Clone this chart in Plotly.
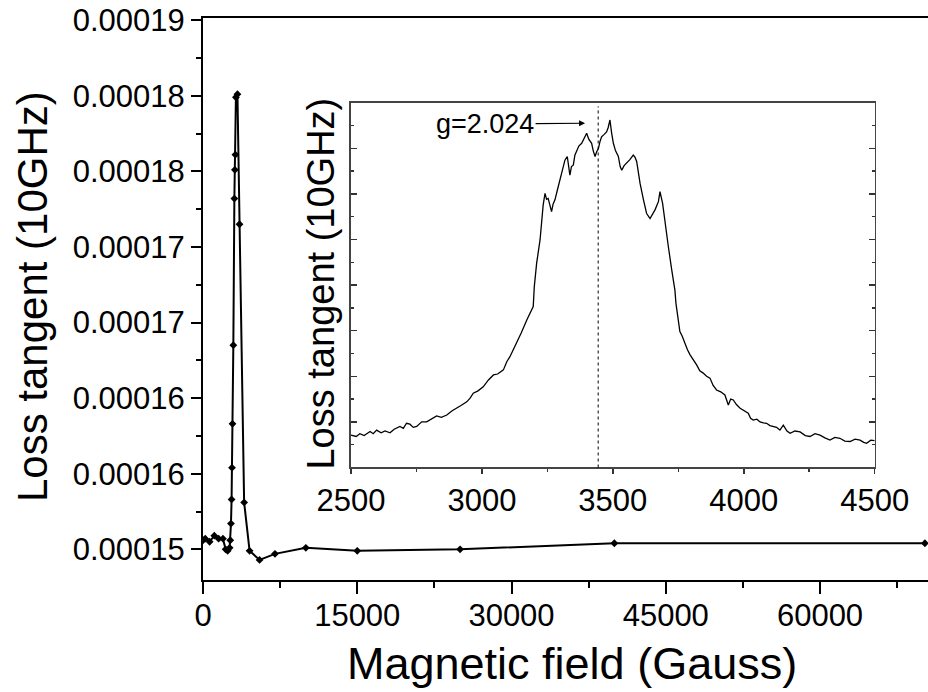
import plotly.graph_objects as go

# ---------------- data ----------------
# main curve: magnetic field (Gauss) vs loss tangent (10 GHz)
MAIN_FIELD = [0, 220, 645, 1100, 1520, 1940, 2200, 2400, 2590, 2650, 2720,
              2780, 2820, 2870, 2950, 3050, 3100, 3150, 3200, 3350,
              3550, 4000, 4530, 5500, 7000, 10000, 15000, 25000, 40000, 70200]
MAIN_LOSS = [0.0001506, 0.0001507, 0.0001505, 0.0001509, 0.0001507, 0.0001507,
             0.0001500, 0.0001499, 0.0001501, 0.0001506, 0.0001517,
             0.0001533, 0.0001554, 0.0001583, 0.0001635, 0.0001732, 0.0001751,
             0.0001761, 0.0001799, 0.0001801,
             0.0001715, 0.0001531, 0.0001499, 0.0001493, 0.0001497, 0.0001501,
             0.0001499, 0.0001500, 0.0001504, 0.0001504]

MAIN_X_TICKS = [0, 15000, 30000, 45000, 60000]
MAIN_X_LABELS = ["0", "15000", "30000", "45000", "60000"]
MAIN_X_MINOR = [7500, 22500, 37500, 52500, 67500]
MAIN_Y_TICKS = [0.000150, 0.000155, 0.000160, 0.000165, 0.000170, 0.000175, 0.000180, 0.000185]
MAIN_Y_LABELS = ["0.00015", "0.00016", "0.00016", "0.00017", "0.00017", "0.00018", "0.00018", "0.00019"]
MAIN_Y_MINOR = [0.0001475, 0.0001525, 0.0001575, 0.0001625, 0.0001675, 0.0001725, 0.0001775, 0.0001825]

# inset: ESR line (arbitrary units)
INSET_FIELD = [2500, 2520, 2534, 2550, 2573, 2585, 2598, 2615, 2630, 2649, 2665, 2687, 2700, 2712,
               2725, 2738, 2751, 2770, 2789, 2805, 2827, 2845, 2866, 2885, 2904, 2920, 2942, 2955,
               2967, 2985, 3005, 3025, 3044, 3060, 3082, 3095, 3107, 3120, 3133, 3150, 3171, 3185,
               3196, 3200, 3209, 3222, 3234, 3241, 3247, 3253, 3260, 3266, 3272, 3279, 3288, 3298,
               3306, 3317, 3326, 3331, 3336, 3342, 3349, 3355, 3362, 3370, 3381, 3390, 3400, 3408,
               3419, 3425, 3432, 3438, 3445, 3451, 3457, 3466, 3476, 3482, 3489, 3495, 3502, 3510,
               3521, 3528, 3534, 3543, 3553, 3565, 3578, 3585, 3591, 3597, 3604, 3617, 3629, 3642,
               3652, 3661, 3674, 3680, 3690, 3699, 3712, 3725, 3737, 3741, 3756, 3765, 3775, 3785,
               3795, 3808, 3820, 3832, 3845, 3858, 3871, 3883, 3896, 3912, 3928, 3941, 3950, 3960,
               3972, 3986, 4000, 4017, 4026, 4036, 4050, 4062, 4075, 4087, 4100, 4113, 4125, 4138,
               4151, 4165, 4177, 4195, 4215, 4235, 4253, 4272, 4291, 4310, 4329, 4348, 4367, 4386,
               4406, 4425, 4444, 4458, 4469, 4485, 4500]
INSET_SIGNAL = [0.71, 0.68, 0.74, 0.70, 0.79, 0.74, 0.82, 0.76, 0.80, 0.76, 0.84, 0.90, 0.86, 0.97,
                0.95, 0.88, 0.90, 1.00, 1.00, 1.06, 1.13, 1.10, 1.15, 1.24, 1.30, 1.36, 1.44, 1.52,
                1.63, 1.68, 1.77, 1.92, 2.03, 2.05, 2.14, 2.32, 2.43, 2.58, 2.72, 2.95, 3.23, 3.38,
                3.53, 3.96, 4.48, 4.99, 5.76, 6.01, 5.88, 5.90, 5.72, 5.61, 5.78, 5.87, 6.08, 6.30,
                6.50, 6.74, 6.82, 6.55, 6.41, 6.60, 6.63, 6.85, 6.96, 7.05, 7.11, 7.20, 7.33, 7.20,
                7.11, 6.95, 6.82, 6.92, 7.00, 7.15, 7.25, 7.30, 7.36, 7.45, 7.62, 7.35, 7.11, 6.95,
                6.82, 6.60, 6.52, 6.62, 6.67, 6.75, 6.85, 6.80, 6.71, 6.45, 6.23, 5.87, 5.57, 5.46,
                5.55, 5.65, 5.83, 6.05, 5.79, 5.36, 4.84, 4.33, 3.89, 3.60, 2.98, 2.88, 2.72, 2.58,
                2.47, 2.36, 2.25, 2.12, 2.07, 2.00, 1.96, 1.80, 1.70, 1.66, 1.59, 1.37, 1.50, 1.48,
                1.38, 1.30, 1.25, 1.19, 1.08, 1.04, 1.06, 1.00, 0.98, 0.97, 0.92, 0.90, 0.88, 0.82,
                0.93, 0.80, 0.75, 0.80, 0.78, 0.70, 0.68, 0.74, 0.71, 0.65, 0.60, 0.66, 0.64, 0.58,
                0.57, 0.62, 0.60, 0.55, 0.53, 0.60, 0.59]

INSET_X_TICKS = [2500, 3000, 3500, 4000, 4500]
INSET_X_LABELS = ["2500", "3000", "3500", "4000", "4500"]
INSET_X_MINOR = [2750, 3250, 3750, 4250]
INSET_Y_TICKS = [0, 1, 2, 3, 4, 5, 6, 7, 8]
INSET_Y_MINOR = [0.5, 1.5, 2.5, 3.5, 4.5, 5.5, 6.5, 7.5]

G_FIELD = 3444          # field of the g = 2.024 line
G_LABEL = "g=2.024"
ARROW_TIP = (3394, 7.55)

FONT = "Liberation Sans, Arial, sans-serif"
TICK_SIZE = 31

fig = go.Figure()
fig.add_trace(go.Scatter(
    x=MAIN_FIELD, y=MAIN_LOSS, mode="lines+markers",
    line=dict(color="black", width=2),
    marker=dict(symbol="diamond", size=6, color="black"),
    xaxis="x", yaxis="y", hoverinfo="skip"))
fig.add_trace(go.Scatter(
    x=INSET_FIELD, y=INSET_SIGNAL, mode="lines",
    line=dict(color="black", width=1.3),
    xaxis="x2", yaxis="y2", hoverinfo="skip"))

fig.update_layout(
    width=928, height=692,
    margin=dict(l=203, r=0, t=18, b=112),
    paper_bgcolor="white", plot_bgcolor="white",
    showlegend=False,
    font=dict(family=FONT, color="black"),
    xaxis=dict(
        range=[0, 70500], domain=[0, 1], anchor="y", automargin=False,
        tickmode="array", tickvals=MAIN_X_TICKS, ticktext=MAIN_X_LABELS,
        ticks="outside", ticklen=12, tickwidth=2, tickcolor="black",
        ticklabelstandoff=-5, ticklabeloverflow="allow",
        minor=dict(tickmode="array", tickvals=MAIN_X_MINOR, ticks="outside",
                   ticklen=6, tickwidth=2, tickcolor="black"),
        showline=True, linewidth=2, linecolor="black", mirror=True,
        showgrid=False, zeroline=False,
        tickfont=dict(size=TICK_SIZE, family=FONT, color="black")),
    yaxis=dict(
        range=[0.00014797, 0.00018514], domain=[0, 1], anchor="x", automargin=False,
        tickmode="array", tickvals=MAIN_Y_TICKS, ticktext=MAIN_Y_LABELS,
        ticks="outside", ticklen=10, tickwidth=2, tickcolor="black",
        ticklabeloverflow="allow",
        minor=dict(tickmode="array", tickvals=MAIN_Y_MINOR, ticks="outside",
                   ticklen=5, tickwidth=2, tickcolor="black"),
        showline=True, linewidth=2, linecolor="black",
        showgrid=False, zeroline=False,
        tickfont=dict(size=TICK_SIZE, family=FONT, color="black")),
    xaxis2=dict(
        range=[2500, 4500], domain=[0.2041, 0.9265], anchor="y2", automargin=False,
        tickmode="array", tickvals=INSET_X_TICKS, ticktext=INSET_X_LABELS,
        ticks="outside", ticklen=5, tickwidth=1.5, tickcolor="#333",
        ticklabeloverflow="allow",
        minor=dict(tickmode="array", tickvals=INSET_X_MINOR, ticks="outside",
                   ticklen=3, tickwidth=1.5, tickcolor="#333"),
        showline=True, linewidth=1.5, linecolor="#444", mirror=True,
        showgrid=False, zeroline=False,
        tickfont=dict(size=TICK_SIZE, family=FONT, color="black")),
    yaxis2=dict(
        range=[0, 8], domain=[0.2002, 0.8493], anchor="x2", automargin=False,
        tickmode="array", tickvals=INSET_Y_TICKS, showticklabels=False,
        ticks="inside", ticklen=6, tickwidth=1.5, tickcolor="#333",
        minor=dict(tickmode="array", tickvals=INSET_Y_MINOR, ticks="inside",
                   ticklen=3, tickwidth=1.5, tickcolor="#333"),
        showline=True, linewidth=1.5, linecolor="#444", mirror="ticks",
        showgrid=False, zeroline=False),
    shapes=[dict(type="line", xref="x2", yref="y2 domain",
                 x0=G_FIELD, x1=G_FIELD, y0=0, y1=0.99,
                 line=dict(color="black", width=1, dash="dot"))],
    annotations=[
        dict(text="Magnetic field (Gauss)", xref="paper", yref="paper",
             x=0.509, y=-0.1477, xanchor="center", yanchor="middle",
             showarrow=False, font=dict(size=45, family=FONT, color="black")),
        dict(text="Loss tangent (10GHz)", xref="paper", yref="paper",
             x=-0.236, y=0.505, xanchor="center", yanchor="middle", textangle=-90,
             showarrow=False, font=dict(size=42, family=FONT, color="black")),
        dict(text="Loss tangent (10GHz)", xref="paper", yref="paper",
             x=0.1628, y=0.5276, xanchor="center", yanchor="middle", textangle=-90,
             showarrow=False, font=dict(size=38, family=FONT, color="black")),
        dict(text=G_LABEL, xref="x2", yref="y2", x=ARROW_TIP[0], y=ARROW_TIP[1],
             ax=-100, ay=1, axref="pixel", ayref="pixel",
             showarrow=True, arrowhead=2, arrowsize=1, arrowwidth=1.2, arrowcolor="black",
             standoff=0, font=dict(size=27, family=FONT, color="black")),
    ],
)

# remove the default 8 px page margin so the 928x692 figure fills the window exactly
fig.write_html("out.html",
               config={"displayModeBar": False, "staticPlot": True},
               post_script="document.body.style.margin='0';document.body.style.overflow='hidden';")
